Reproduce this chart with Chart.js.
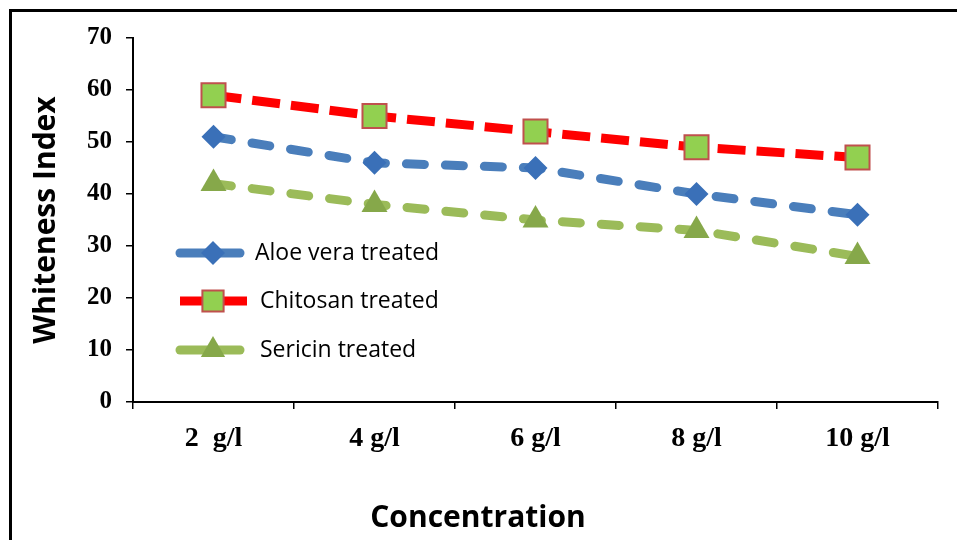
<!DOCTYPE html>
<html>
<head>
<meta charset="utf-8">
<script src="https://cdn.jsdelivr.net/npm/chart.js"></script>
<style>
html, body { margin: 0; padding: 0; background: #fff; overflow: hidden; }
#frame { position: absolute; left: 9px; top: 9px; width: 1000px; height: 600px; border: 3px solid #000; }
#wrap { position: absolute; left: 0; top: 0; width: 957px; height: 540px; }
</style>
</head>
<body>
<div id="frame"></div>
<div id="wrap"><canvas id="chart" width="957" height="540"></canvas></div>
<script>
// data
var concentrations = ['2  g/l', '4 g/l', '6 g/l', '8 g/l', '10 g/l'];
var aloeVera = [51, 46, 45, 40, 36];
var chitosan = [59, 55, 52, 49, 47];
var sericin = [42, 38, 35, 33, 28];
var seriesNames = ['Aloe vera treated', 'Chitosan treated', 'Sericin treated'];
var xTitle = 'Concentration';

// legend drawn inside the plot, and the x title set a bit left of centre, like the original
var insideLegend = {
    id: 'insideLegend',
    afterDraw: function(chart) {
        var ctx = chart.ctx;
        var rows = [
            {y: 253, x1: 180, x2: 240, cap: 'round', w: 9, color: '#4A7EBB', textX: 255,
             point: {pointStyle: 'rectRot', radius: 12, borderWidth: 0, rotation: 0}, fill: '#3A70B8', stroke: '#3A70B8'},
            {y: 301, x1: 180, x2: 247, cap: 'butt', w: 9, color: '#FF0000', textX: 260,
             point: {pointStyle: 'rect', radius: 15, borderWidth: 2, rotation: 0}, fill: '#92D050', stroke: '#C0504D'},
            {y: 350, x1: 180, x2: 240, cap: 'round', w: 9, color: '#9BBB59', textX: 260,
             point: {pointStyle: 'triangle', radius: 14, borderWidth: 0, rotation: 0}, fill: '#86A84A', stroke: '#86A84A'}
        ];
        ctx.save();
        rows.forEach(function(r, i) {
            ctx.beginPath();
            ctx.lineWidth = r.w;
            ctx.lineCap = r.cap;
            ctx.strokeStyle = r.color;
            ctx.setLineDash([]);
            ctx.moveTo(r.x1, r.y);
            ctx.lineTo(r.x2, r.y);
            ctx.stroke();
            ctx.fillStyle = r.fill;
            ctx.strokeStyle = r.stroke;
            ctx.lineWidth = r.point.borderWidth;
            Chart.helpers.drawPoint(ctx, r.point, 213, r.y);
            ctx.fillStyle = '#000';
            ctx.font = '23px "Open Sans"';
            ctx.textBaseline = 'middle';
            ctx.textAlign = 'left';
            ctx.fillText(seriesNames[i], r.textX, r.y);
        });
        ctx.font = 'bold 30px "Open Sans"';
        ctx.textAlign = 'center';
        ctx.textBaseline = 'alphabetic';
        ctx.fillText(xTitle, 478, 527);
        ctx.restore();
    }
};

new Chart(document.getElementById('chart'), {
    type: 'line',
    data: {
        labels: concentrations,
        datasets: [
            {
                label: seriesNames[0],
                data: aloeVera,
                borderColor: '#4A7EBB',
                borderWidth: 9,
                borderDash: [18, 21],
                borderCapStyle: 'round',
                pointStyle: 'rectRot',
                pointRadius: 12,
                pointBackgroundColor: '#3A70B8',
                pointBorderColor: '#3A70B8',
                pointBorderWidth: 0,
                tension: 0
            },
            {
                label: seriesNames[1],
                data: chitosan,
                borderColor: '#FF0000',
                borderWidth: 9,
                borderDash: [28, 11],
                borderCapStyle: 'butt',
                pointStyle: 'rect',
                pointRadius: 17,
                pointBackgroundColor: '#92D050',
                pointBorderColor: '#C0504D',
                pointBorderWidth: 2,
                tension: 0
            },
            {
                label: seriesNames[2],
                data: sericin,
                borderColor: '#9BBB59',
                borderWidth: 9,
                borderDash: [18, 21],
                borderCapStyle: 'round',
                pointStyle: 'triangle',
                pointRadius: 15,
                pointBackgroundColor: '#86A84A',
                pointBorderColor: '#86A84A',
                pointBorderWidth: 0,
                tension: 0
            }
        ]
    },
    options: {
        responsive: false,
        animation: false,
        devicePixelRatio: 1,
        layout: { padding: { top: 38, right: 19, left: 0, bottom: 0 } },
        plugins: {
            legend: { display: false },
            tooltip: { enabled: false }
        },
        scales: {
            x: {
                offset: true,
                afterFit: function(s) { s.height = 138; },
                grid: { offset: true, drawOnChartArea: false, drawTicks: true, tickLength: 7, color: '#000', lineWidth: 1.5 },
                border: { display: true, color: '#000', width: 2 },
                ticks: {
                    color: '#000',
                    padding: 13,
                    maxRotation: 0,
                    font: { family: '"Liberation Serif"', size: 28, weight: 'bold' }
                }
            },
            y: {
                min: 0,
                max: 70,
                afterFit: function(s) { s.width = 133; },
                grid: { drawOnChartArea: false, drawTicks: true, tickLength: 7, color: '#000', lineWidth: 1.5 },
                border: { display: true, color: '#000', width: 2 },
                ticks: {
                    stepSize: 10,
                    color: '#000',
                    padding: 14,
                    font: { family: '"Liberation Serif"', size: 25, weight: 'bold' }
                },
                title: {
                    display: true,
                    text: 'Whiteness Index',
                    color: '#000',
                    padding: { top: 28, bottom: 0 },
                    font: { family: '"Open Sans"', size: 30, weight: 'bold' }
                }
            }
        }
    },
    plugins: [insideLegend]
});
</script>
</body>
</html>
